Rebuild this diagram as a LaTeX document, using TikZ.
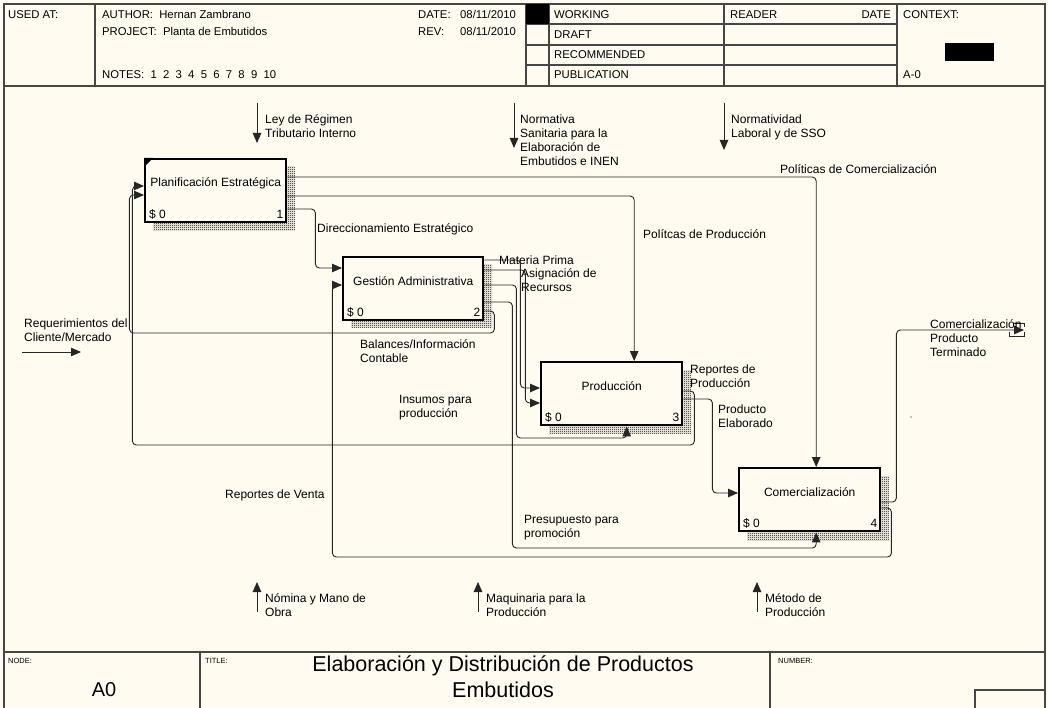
\documentclass[tikz,border=0pt]{standalone}
\usepackage{fontspec}
\setmainfont{Liberation Sans}
\usetikzlibrary{arrows.meta,patterns}
\pgfdeclarepatternformonly{checker}{\pgfpointorigin}{\pgfpoint{2pt}{2pt}}{\pgfpoint{2pt}{2pt}}{%
 \pgfpathrectangle{\pgfpointorigin}{\pgfpoint{1pt}{1pt}}%
 \pgfpathrectangle{\pgfpoint{1pt}{1pt}}{\pgfpoint{1pt}{1pt}}%
 \pgfusepath{fill}}
\definecolor{paper}{RGB}{255,251,240}
\definecolor{frame}{RGB}{70,70,70}
\begin{document}
\begin{tikzpicture}[x=1pt,y=-1pt,
  lbl/.style={font=\fontsize{12}{14}\selectfont, align=left, anchor=base west, inner sep=0pt},
  hdr/.style={font=\fontsize{11.3}{13}\selectfont, anchor=base west, inner sep=0pt},
  tiny/.style={font=\fontsize{7.5}{9}\selectfont, anchor=base west, inner sep=0pt},
  box/.style={draw=black, line width=2.4pt, fill=paper, minimum width=141pt, minimum height=63pt, anchor=north west, inner sep=0pt},
  boxtxt/.style={font=\fontsize{12}{14}\selectfont, inner sep=0pt},
  conn/.style={draw=black!85, line width=0.9pt, rounded corners=4pt, -{Triangle[length=10pt,width=8.5pt]}},
  wire/.style={draw=black!85, line width=0.9pt},
  shadowpat/.style={pattern=checker, pattern color=black},
  frm/.style={draw=frame, line width=1.3pt}]
\fill[paper] (0,0) rectangle (1048,708);
\useasboundingbox (0,0) rectangle (1048,708);
% frame
\draw[frm] (4,708) -- (4,4) -- (1045,4) -- (1045,708);
\draw[frm] (4,86) -- (1045,86);
\draw[frm] (95,4) -- (95,86);
\draw[frm] (526,4) -- (526,86);
\draw[frm] (549,4) -- (549,86);
\draw[frm] (724,4) -- (724,86);
\draw[frm] (897,4) -- (897,86);
\draw[frm] (526,24) -- (897,24);
\draw[frm] (526,45) -- (897,45);
\draw[frm] (526,65) -- (897,65);
\fill[black] (526,4) rectangle (549,24);
\fill[black] (945,43) rectangle (994,61);
\draw[frm] (4,652) -- (1045,652);
\draw[frm] (200,652) -- (200,708);
\draw[frm] (770,652) -- (770,708);
\draw[frm] (975,708) -- (975,690) -- (1045,690);
% header text
\node[hdr] (hUsed) at (8,19) {USED AT:};
\node[hdr] (hAuth) at (102,19) {AUTHOR:\ \ Hernan Zambrano};
\node[hdr] (hProj) at (102,36) {PROJECT:\ \ Planta de Embutidos};
\node[hdr] (hNotes) at (102,79) {NOTES:\ \ 1\ \ 2\ \ 3\ \ 4\ \ 5\ \ 6\ \ 7\ \ 8\ \ 9\ \ 10};
\node[hdr] (hDate) at (418,19) {DATE:};
\node[hdr] (hDateV) at (460,19) {08/11/2010};
\node[hdr] (hRev) at (418,36) {REV:};
\node[hdr] (hRevV) at (460,36) {08/11/2010};
\node[hdr] (hWork) at (554,19) {WORKING};
\node[hdr] (hDraft) at (554,39) {DRAFT};
\node[hdr] (hRec) at (554,59) {RECOMMENDED};
\node[hdr] (hPub) at (554,79) {PUBLICATION};
\node[hdr] (hRead) at (730,19) {READER};
\node[hdr, anchor=base east] (hRDate) at (891,19) {DATE};
\node[hdr] (hCtx) at (903,19) {CONTEXT:};
\node[hdr] (hA0) at (903,79) {A-0};
% footer text
\node[tiny] (fNode) at (8,663) {NODE:};
\node[tiny] (fTitle) at (205,663) {TITLE:};
\node[tiny] (fNum) at (778,663) {NUMBER:};
\node[font=\fontsize{20}{22}\selectfont, inner sep=0pt] (fA0) at (104,690) {A0};
\node[font=\fontsize{21.5}{26}\selectfont, align=center, inner sep=0pt] (fTitleT) at (503,677) {Elaboración y Distribución de Productos\\Embutidos};
% shadows
\fill[shadowpat] (153,167) rectangle (295,231);
\fill[shadowpat] (351,265) rectangle (492,327);
\fill[shadowpat] (549,370) rectangle (691,433);
\fill[shadowpat] (747,476) rectangle (889,540);
% boxes
\node[box] (b1) at (144,158) {};
\node[box, minimum width=140pt] (b2) at (342,256) {};
\node[box] (b3) at (540,361) {};
\node[box] (b4) at (738,467) {};
\fill[black] (144,158) -- (153,158) -- (144,167) -- cycle;
\node[boxtxt] (b1t) at ([yshift=-25pt]b1.north) {Planificación Estratégica};
\node[boxtxt] (b2t) at ([yshift=-25pt]b2.north) {Gestión Administrativa};
\node[boxtxt] (b3t) at ([yshift=-25pt]b3.north) {Producción};
\node[boxtxt] (b4t) at ([yshift=-25pt]b4.north) {Comercialización};
\foreach \b/\n in {b1/1,b2/2,b3/3,b4/4}{
  \node[boxtxt, anchor=west] (\b s) at ([shift={(5pt,9pt)}]\b.south west) {\$ 0};
  \node[boxtxt, anchor=east] (\b n) at ([shift={(-4pt,9pt)}]\b.south east) {\n};
}
% stub coordinates
\coordinate (sLey1) at (257,103); \coordinate (sLey2) at (257,143);
\coordinate (sNor1) at (514,103); \coordinate (sNor2) at (514,148);
\coordinate (sLab1) at (724,103); \coordinate (sLab2) at (724,150);
\coordinate (sReq1) at (22,352);  \coordinate (sReq2) at (81,352);
\coordinate (sNom1) at (257,612); \coordinate (sNom2) at (257,582);
\coordinate (sMaq1) at (478,612); \coordinate (sMaq2) at (478,582);
\coordinate (sMet1) at (757,612); \coordinate (sMet2) at (757,582);
\coordinate (outT) at (1024,330);
\draw[conn] (sLey1) -- (sLey2);
\draw[conn] (sNor1) -- (sNor2);
\draw[conn] (sLab1) -- (sLab2);
\draw[conn] (sReq1) -- (sReq2);
\draw[conn] (sNom1) -- (sNom2);
\draw[conn] (sMaq1) -- (sMaq2);
\draw[conn] (sMet1) -- (sMet2);
% connectors
\draw[conn] ([yshift=-19pt]b1.north east) -| ([xshift=6.5pt]b4.north);
\draw[conn] ([yshift=-38pt]b1.north east) -| ([xshift=22.5pt]b3.north);
\draw[conn] ([yshift=-51pt]b1.north east) -- ++(28,0) |- ([yshift=-12pt]b2.north west);
\draw[conn] ([yshift=-55pt]b2.north east) -- ++(10,0) -- ++(0,22) -- ++(-365,0) |- ([yshift=-37pt]b1.north west);
\draw[conn] ([yshift=-30pt]b3.north east) -- ++(11,0) -- ++(0,54) -- ++(-562,0) |- ([yshift=-28pt]b1.north west);
\draw[conn] ([yshift=-4pt]b2.north east) -- ++(36,0) |- ([yshift=-27pt]b3.north west);
\draw[conn] ([yshift=-14pt]b2.north east) -- ++(41,0) |- ([yshift=-42pt]b3.north west);
\draw[conn] ([yshift=-29pt]b2.north east) -- ++(32,0) -- ++(0,153) -| ([xshift=15pt]b3.south);
\draw[conn] ([yshift=-46pt]b2.north east) -- ++(28,0) -- ++(0,246) -| ([xshift=6.5pt]b4.south);
\draw[conn] ([yshift=-38pt]b3.north east) -- ++(29,0) |- ([yshift=-26pt]b4.north west);
\draw[conn] ([yshift=-41pt]b4.north east) -- ++(10,0) -- ++(0,49) -- ++(-559,0) |- ([yshift=-29pt]b2.north west);
\draw[conn] ([yshift=-35pt]b4.north east) -- ++(15,0) |- (outT);
% tunnel bracket
\draw[wire] (1013,323) -- (1024,323) -- (1024,327);
\draw[wire] (1009,332) -- (1009,336) -- (1024,336) -- (1024,332);
\fill[black] (911,417) circle (0.6pt);
% labels (base anchor = baseline of last line)
\node[lbl] (lLey) at (265,138) {Ley de Régimen\\Tributario Interno};
\node[lbl] (lNorm) at (520,166) {Normativa\\Sanitaria para la\\Elaboración de\\Embutidos e INEN};
\node[lbl] (lLab) at (731,138) {Normatividad\\Laboral y de SSO};
\node[lbl] (lPC) at (780,174) {Políticas de Comercialización};
\node[lbl] (lPP) at (643,239) {Polítcas de Producción};
\node[lbl] (lDir) at (317,233) {Direccionamiento Estratégico};
\node[lbl] (lMP) at (499,265) {Materia Prima};
\node[lbl] (lAsig) at (521,291) {Asignación de\\Recursos};
\node[lbl] (lReq) at (24,341) {Requerimientos del\\Cliente/Mercado};
\node[lbl] (lBal) at (360,362) {Balances/Información\\Contable};
\node[lbl] (lRP) at (690,387) {Reportes de\\Producción};
\node[lbl] (lIns) at (399,417) {Insumos para\\producción};
\node[lbl] (lPE) at (718,427) {Producto\\Elaborado};
\node[lbl] (lCPT) at (930,356) {Comercialización\\Producto\\Terminado};
\node[lbl] (lRV) at (225,498) {Reportes de Venta};
\node[lbl] (lPres) at (524,537) {Presupuesto para\\promoción};
\node[lbl] (lNom) at (265,616) {Nómina y Mano de\\Obra};
\node[lbl] (lMaq) at (486,616) {Maquinaria para la\\Producción};
\node[lbl] (lMet) at (765,616) {Método de\\Producción};
\end{tikzpicture}
\end{document}
